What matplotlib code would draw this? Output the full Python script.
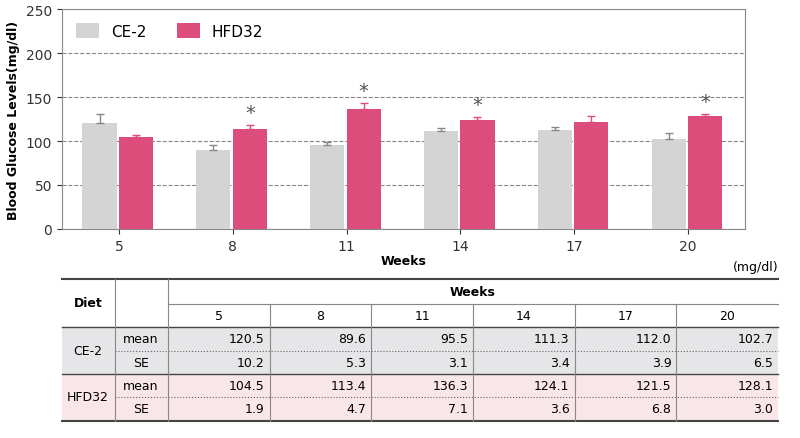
import matplotlib
matplotlib.use("Agg")
import matplotlib.pyplot as plt
import numpy as np

weeks = ["5", "8", "11", "14", "17", "20"]
ce2_mean = [120.5, 89.6, 95.5, 111.3, 112.0, 102.7]
ce2_se = [10.2, 5.3, 3.1, 3.4, 3.9, 6.5]
hfd_mean = [104.5, 113.4, 136.3, 124.1, 121.5, 128.1]
hfd_se = [1.9, 4.7, 7.1, 3.6, 6.8, 3.0]
significant = [False, True, True, True, False, True]

GREY = "#d4d4d4"
PINK = "#dc4d7b"

W, H = 800, 439
fig = plt.figure(figsize=(W/100, H/100), dpi=100)
ax = fig.add_axes([62/W, (H-230)/H, (745-62)/W, 220/H])
x = np.arange(len(weeks))
bw = 0.3
ax.bar(x-0.17, ce2_mean, bw, color=GREY, zorder=3)
ax.errorbar(x-0.17, ce2_mean, yerr=[np.zeros(6), ce2_se], fmt="none", ecolor="#888888", capsize=3, lw=1, zorder=4)
ax.bar(x+0.15, hfd_mean, bw, color=PINK, zorder=3)
ax.errorbar(x+0.15, hfd_mean, yerr=[np.zeros(6), hfd_se], fmt="none", ecolor=PINK, capsize=3, lw=1, zorder=4)
for i, s in enumerate(significant):
    if s:
        ax.text(x[i]+0.15, hfd_mean[i]+hfd_se[i]+3, "*", ha="center", va="bottom", fontsize=14, color="#555555")
ax.set_xlim(-0.5, 5.5)
ax.set_ylim(0, 250)
ax.set_yticks(range(0, 251, 50))
ax.set_xticks(x)
ax.set_xticklabels(weeks)
ax.tick_params(labelsize=10, colors="#333333")
ax.yaxis.grid(True, ls="--", color="#888888", lw=0.8, zorder=0)
for sp in ax.spines.values():
    sp.set_color("#888888")
ax.set_xlabel("Weeks", fontsize=9, fontweight="bold", labelpad=1)
ax.set_ylabel("Blood Glucose Levels(mg/dl)", fontsize=9, fontweight="bold")
ax.bar([0], [0], color=GREY, label="CE-2")
ax.bar([0], [0], color=PINK, label="HFD32")
ax.legend(loc="upper left", ncol=2, frameon=False, fontsize=11, handlelength=1.5, handleheight=1.2, columnspacing=2)

# table
t = fig.add_axes([0, 0, 1, 1])
t.set_xlim(0, W); t.set_ylim(H, 0); t.axis("off")
L, R = 62, 778
cols = [168 + i*(R-168)/6 for i in range(7)]
t.fill_between([L, R], 328, 375, color="#e6e6e8", lw=0)
t.fill_between([L, R], 375, 422, color="#f9e6e8", lw=0)
t.plot([L, R], [280, 280], color="#444", lw=1.5)
t.plot([L, R], [422, 422], color="#444", lw=1.5)
t.plot([L, R], [328, 328], color="#444", lw=1)
t.plot([L, R], [375, 375], color="#444", lw=1)
t.plot([168, R], [305, 305], color="#888", lw=0.8)
t.plot([115, R], [352, 352], color="#666", lw=0.8, ls=":")
t.plot([115, R], [398, 398], color="#666", lw=0.8, ls=":")
t.plot([115, 115], [280, 422], color="#888", lw=0.8)
for c in cols[:-1]:
    y0 = 280 if c == 168 else 305
    t.plot([c, c], [y0, 422], color="#888", lw=0.8)
t.text(88, 304, "Diet", ha="center", va="center", fontsize=9, fontweight="bold")
t.text((168+R)/2, 293, "Weeks", ha="center", va="center", fontsize=9, fontweight="bold")
t.text(R, 268, "(mg/dl)", ha="right", va="center", fontsize=9)
for i, w in enumerate(weeks):
    t.text((cols[i]+cols[i+1])/2, 317, w, ha="center", va="center", fontsize=9)
rows = [(ce2_mean, 340), (ce2_se, 364), (hfd_mean, 387), (hfd_se, 410)]
for vals, y in rows:
    for i, v in enumerate(vals):
        t.text(cols[i+1]-5, y, f"{v:.1f}", ha="right", va="center", fontsize=9)
for lab, y in [("mean", 340), ("SE", 364), ("mean", 387), ("SE", 410)]:
    t.text(141, y, lab, ha="center", va="center", fontsize=9)
t.text(88, 352, "CE-2", ha="center", va="center", fontsize=9)
t.text(88, 398, "HFD32", ha="center", va="center", fontsize=9)

fig.savefig("out.png", dpi=100)
